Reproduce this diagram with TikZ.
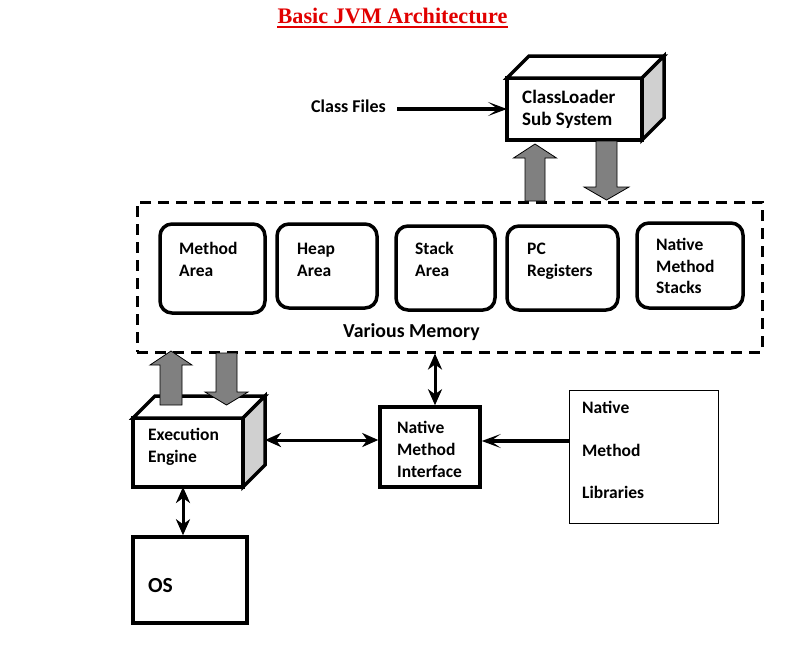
\documentclass[tikz,border=0pt]{standalone}
\usepackage{fontspec}
\setmainfont{Liberation Serif}
\newfontfamily\carl{Carlito}
\usetikzlibrary{arrows.meta}
\definecolor{titlered}{RGB}{225,0,0}
\definecolor{sidegray}{RGB}{208,208,208}
\definecolor{arrgray}{RGB}{128,128,128}
\newcommand\cubefaces[1]{%
  \draw[boxline, fill=white] (#1.north west) -- ++(22,-22) -- ([shift={(22,-22)}]#1.north east) -- (#1.north east) -- cycle;
  \draw[boxline, fill=sidegray] (#1.north east) -- ++(22,-22) -- ([shift={(22,-22)}]#1.south east) -- (#1.south east) -- cycle;}
\newcommand\blockarr[6]{%
  \draw[blockarrow] ({#1-#2},#4) -- ({#1-#2},#5) -- ({#1-#3},#5) -- (#1,#6) -- ({#1+#3},#5) -- ({#1+#2},#5) -- ({#1+#2},#4) -- cycle;}
\begin{document}
\begin{tikzpicture}[x=1pt,y=-1pt,
  boxline/.style={line width=3.5pt, line join=miter},
  thickbox/.style={draw, boxline, inner sep=0pt, fill=white},
  cubebox/.style={thickbox, outer sep=0pt},
  membox/.style={draw, line width=3.5pt, rounded corners=12pt, inner sep=0pt},
  thinbox/.style={draw, line width=1pt, inner sep=0pt},
  dashbox/.style={draw, line width=3pt, dash pattern=on 11pt off 7pt, inner sep=0pt},
  lbl/.style={font=\carl\bfseries\fontsize{17.5}{17.5}\selectfont, inner sep=0pt, anchor=base west},
  conn/.style={line width=4pt, -{Stealth[length=19pt,width=14pt,inset=10pt]}},
  dbl/.style={line width=3pt, {Stealth[length=16pt,width=14pt,inset=5pt]}-{Stealth[length=16pt,width=14pt,inset=5pt]}},
  blockarrow/.style={draw=black, line width=0.8pt, fill=arrgray, line join=miter}
]
\useasboundingbox (0,0) rectangle (812,646);

% title
\node[font=\bfseries\fontsize{22.2}{22.2}\selectfont, text=titlered, inner sep=0pt, anchor=base] (title) at (392.5,23) {Basic JVM Architecture};
\draw[titlered, line width=1.8pt] ([shift={(0,4)}]title.base west) -- ([shift={(0,4)}]title.base east);

% class loader
\node[cubebox, minimum width=135pt, minimum height=62pt] (cl) at (574.5,109) {};
\cubefaces{cl}
\node[lbl, font=\carl\bfseries\fontsize{19}{19}\selectfont] (cl1) at (522,103) {ClassLoader};
\node[lbl, font=\carl\bfseries\fontsize{19}{19}\selectfont] (cl2) at (522,125) {Sub System};

\node[lbl, font=\carl\bfseries\fontsize{18}{18}\selectfont] (cf) at (311,112) {Class Files};
\coordinate (cfs) at ([xshift=11pt]cf.east |- cl.west);
\draw[conn] (cfs) -- (cl.west);

% various memory
\node[dashbox, minimum width=625pt, minimum height=150pt] (mem) at (449.5,277) {};
\node[lbl, font=\carl\bfseries\fontsize{19.8}{19.8}\selectfont] (memlbl) at (343,337) {Various Memory};

\node[membox, minimum width=105pt, minimum height=89pt] (ma) at (212.5,268.5) {};
\node[lbl] (ma1) at (179,254) {Method};
\node[lbl] (ma2) at (179,276) {Area};

\node[membox, minimum width=100pt, minimum height=84pt] (ha) at (327,266) {};
\node[lbl] (ha1) at (297,254) {Heap};
\node[lbl] (ha2) at (297,276) {Area};

\node[membox, minimum width=99pt, minimum height=84pt] (sa) at (445.5,268) {};
\node[lbl] (sa1) at (415,254) {Stack};
\node[lbl] (sa2) at (415,276) {Area};

\node[membox, minimum width=111pt, minimum height=84pt] (pc) at (562.5,268) {};
\node[lbl] (pc1) at (527,254) {PC};
\node[lbl] (pc2) at (527,276) {Registers};

\node[membox, minimum width=106pt, minimum height=85pt] (nms) at (690,265.5) {};
\node[lbl] (nms1) at (656,250) {Native};
\node[lbl] (nms2) at (656,272) {Method};
\node[lbl] (nms3) at (656,293) {Stacks};

% execution engine
\node[cubebox, minimum width=110pt, minimum height=69pt] (ee) at (188,452.5) {};
\cubefaces{ee}
\node[lbl] (ee1) at (148,440) {Execution};
\node[lbl] (ee2) at (148,462) {Engine};

% native method interface
\node[thickbox, minimum width=100pt, minimum height=80pt] (nmi) at (430,447) {};
\node[lbl] (nmi1) at (397,433) {Native};
\node[lbl] (nmi2) at (397,455) {Method};
\node[lbl] (nmi3) at (397,477) {Interface};

% native method libraries
\node[thinbox, minimum width=149pt, minimum height=133pt] (nml) at (643.5,456.5) {};
\node[lbl] (nml1) at (582,413) {Native};
\node[lbl] (nml2) at (582,456) {Method};
\node[lbl] (nml3) at (582,498) {Libraries};

% OS
\node[thickbox, minimum width=114pt, minimum height=86pt] (os) at (190,580) {};
\node[lbl, font=\carl\bfseries\fontsize{21.5}{21.5}\selectfont] (os1) at (148,592) {OS};

% connectors
\coordinate (eer) at ([shift={(22,-12.5)}]ee.east);
\draw[dbl] (eer) -- (eer -| nmi.west);
\coordinate (nmit) at ([shift={(5,0)}]nmi.north);
\draw[dbl] (nmit |- mem.south) -- (nmit);
\coordinate (nmlw) at ([shift={(0,-15.5)}]nml.west);
\draw[conn] (nmlw) -- (nmlw -| nmi.east);
\coordinate (ees) at ([shift={(-5,0)}]ee.south);
\draw[dbl] (ees) -- (ees |- os.north);

% block arrows
\blockarr{535}{10}{21.5}{201}{158}{144}
\blockarr{606.5}{10.5}{22.5}{141}{187}{200}
\blockarr{171}{11}{21}{405}{365}{351}
\blockarr{226.5}{10.5}{21.5}{353}{392}{405}
\end{tikzpicture}
\end{document}
